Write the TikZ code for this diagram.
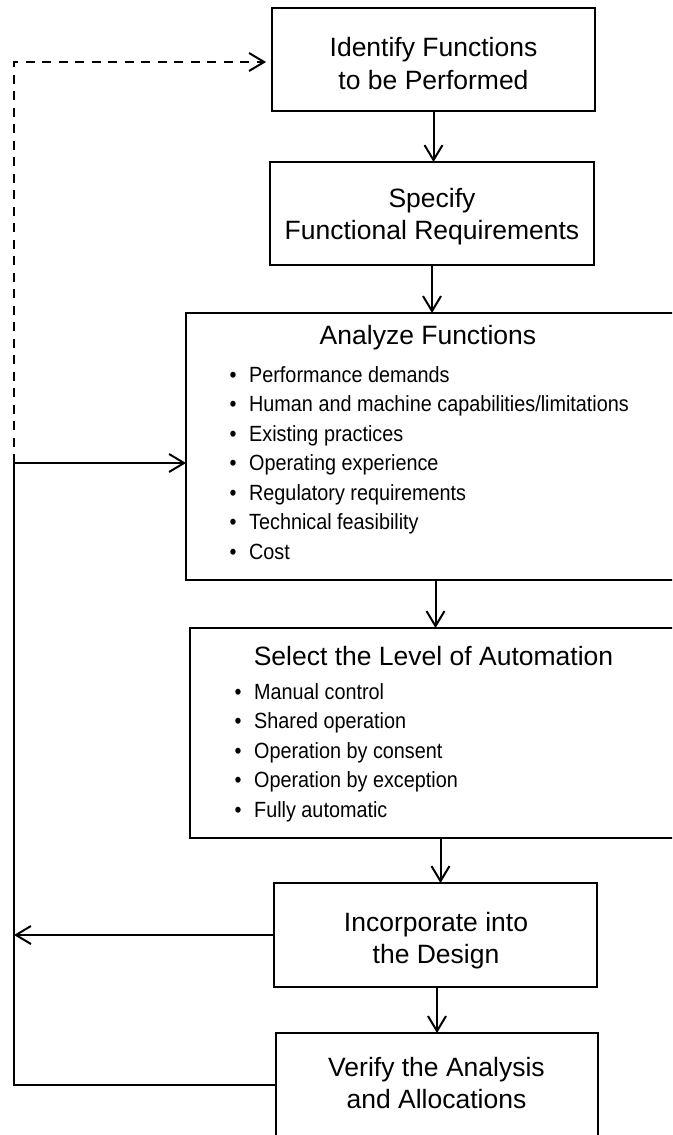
\documentclass[tikz,border=0pt]{standalone}
\usepackage{fontspec}
\setmainfont{Liberation Sans}
\newfontfamily\narrowfont{Liberation Sans}[FakeStretch=0.9]
\usetikzlibrary{arrows.meta}
\newcommand\bitem[1]{\makebox[19.5pt][l]{\textbullet}#1}
\tikzset{
  box/.style={draw, line width=2.2pt, inner sep=0pt, outer sep=0pt},
  ttl/.style={anchor=base, inner sep=0pt, font=\fontsize{26.5}{32.5}\selectfont},
  itm/.style={anchor=base west, inner sep=0pt, font=\narrowfont\fontsize{22}{29.5}\selectfont},
  wire/.style={line width=2pt},
  conn/.style={wire, -{Straight Barb[length=15pt,width=18pt]}},
  dconn/.style={conn, dash pattern=on 9pt off 7.5pt},
}
\begin{document}
\begin{tikzpicture}[x=1pt,y=-1pt]
\useasboundingbox (0,0) rectangle (672,1135);
\clip (0,0) rectangle (672,1135);

% boxes
\node[box, minimum width=323pt, minimum height=103pt] (b1) at (433.5,59.5) {};
\node[box, minimum width=324pt, minimum height=103pt] (b2) at (432,213.5) {};
\node[box, minimum width=514pt, minimum height=267pt] (b3) at (443,446.5) {};
\node[box, minimum width=510pt, minimum height=210pt] (b4) at (445,733) {};
\node[box, minimum width=323pt, minimum height=104pt] (b5) at (435.5,935) {};
\node[box, minimum width=322pt, minimum height=104pt] (b6) at (437,1085) {};

% texts
\node[ttl] (t1a) at (433.5,56) {Identify Functions};
\node[ttl] (t1b) at (433.5,89) {to be Performed};
\node[ttl] (t2a) at (432,207) {Specify};
\node[ttl] (t2b) at (432,239) {Functional Requirements};
\node[ttl] (t3) at (428,344) {Analyze Functions};
\node[ttl] (t4) at (433.5,665) {Select the Level of Automation};
\node[ttl] (t5a) at (436,931) {Incorporate into};
\node[ttl] (t5b) at (436,963) {the Design};
\node[ttl] (t6a) at (436.5,1076) {Verify the Analysis};
\node[ttl] (t6b) at (436.5,1108) {and Allocations};

\foreach \t [count=\i] in {Performance demands, Human and machine capabilities/limitations, Existing practices, Operating experience, Regulatory requirements, Technical feasibility, Cost}
  \node[itm] (p\i) at (229.5,{382+29.5*(\i-1)}) {\bitem{\t}};

\foreach \t [count=\i] in {Manual control, Shared operation, Operation by consent, Operation by exception, Fully automatic}
  \node[itm] (q\i) at (234.5,{699+29.5*(\i-1)}) {\bitem{\t}};

% main flow
\draw[conn] (b1.south) -- (b2.north -| b1.south);
\draw[conn] (b2.south) -- (b2.south |- b3.north);
\draw[conn] (b3.south -| b5.north) -- (b4.north -| b5.north);
\coordinate (m45) at ([xshift=5pt]b5.north);
\draw[conn] (b4.south -| m45) -- (m45);
\draw[conn] (b5.south -| b6.north) -- (b6.north);

% feedback loops
\coordinate (jn) at (14,463);
\coordinate (tl) at (14,62);
\draw[dconn, shorten >=6pt] (jn) -- (tl) -- (tl -| b1.west);
\draw[conn] (jn) -- (jn -| b3.west);
\draw[wire] (b6.west) -- (b6.west -| jn) -- (jn);
\draw[conn] (b5.west) -- (b5.west -| jn);
\end{tikzpicture}
\end{document}
